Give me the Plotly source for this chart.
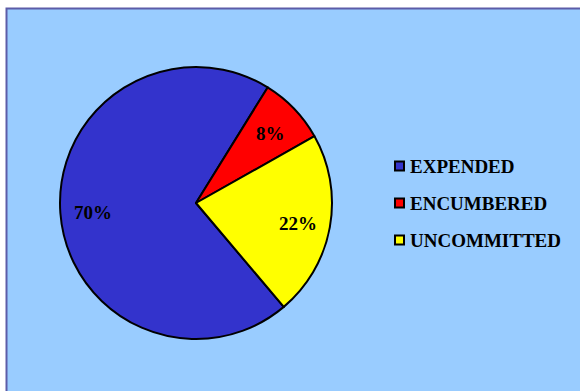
import math
import plotly.graph_objects as go

# Budget status shares (percent)
categories = ["EXPENDED", "ENCUMBERED", "UNCOMMITTED"]
values = [70, 8, 22]
colors = ["#3333CC", "#FF0000", "#FFFF00"]

W, H = 580, 391
BG = "#99CCFF"
FONT = "Liberation Serif"

# pie placement in pixels
cx, cy, r = 196, 203, 136
start_angle = 139.8  # degrees clockwise from 12 o'clock where the first slice begins

def px_x(x):
    return x / W

def px_y(y):
    return 1 - y / H

fig = go.Figure()
fig.add_trace(go.Pie(
    labels=categories,
    values=values,
    sort=False,
    direction="clockwise",
    rotation=start_angle,
    marker=dict(colors=colors, line=dict(color="black", width=2)),
    textinfo="none",
    hoverinfo="label+percent",
    showlegend=False,
    domain=dict(x=[px_x(cx - r), px_x(cx + r)], y=[px_y(cy + r), px_y(cy - r)]),
))

annotations = []
# percentage labels at each slice's mid-angle
total = sum(values)
cum = 0
for v in values:
    mid = math.radians(start_angle + 360 * (cum + v / 2) / total)
    cum += v
    lx = cx + 0.76 * r * math.sin(mid)
    ly = cy - 0.76 * r * math.cos(mid) + 2
    annotations.append(dict(
        x=px_x(lx), y=px_y(ly), xref="paper", yref="paper",
        text=f"<b>{round(100 * v / total)}%</b>", showarrow=False,
        xanchor="center", yanchor="middle",
        font=dict(family=FONT, size=19, color="black"),
    ))

shapes = [
    # chart area panel
    dict(type="rect", xref="paper", yref="paper", layer="below",
         x0=px_x(6.5), x1=px_x(W + 5), y0=px_y(H + 5), y1=px_y(8.5),
         fillcolor=BG, line=dict(color="#5C5CA8", width=2)),
]

# legend: square swatch + label per category
leg_x, leg_y0, leg_dy = 395, 166, 37
for i, (name, col) in enumerate(zip(categories, colors)):
    yy = leg_y0 + i * leg_dy
    shapes.append(dict(type="rect", xref="paper", yref="paper",
                       x0=px_x(leg_x), x1=px_x(leg_x + 9),
                       y0=px_y(yy + 4.5), y1=px_y(yy - 4.5),
                       fillcolor=col, line=dict(color="black", width=2)))
    annotations.append(dict(
        x=px_x(leg_x + 13), y=px_y(yy), xref="paper", yref="paper",
        text=f"<b>{name}</b>", showarrow=False,
        xanchor="left", yanchor="middle",
        font=dict(family=FONT, size=19, color="black"),
    ))

fig.update_layout(
    width=W, height=H,
    margin=dict(l=0, r=0, t=0, b=0),
    paper_bgcolor="white",
    plot_bgcolor="white",
    shapes=shapes,
    annotations=annotations,
)

fig.write_html("out.html")
